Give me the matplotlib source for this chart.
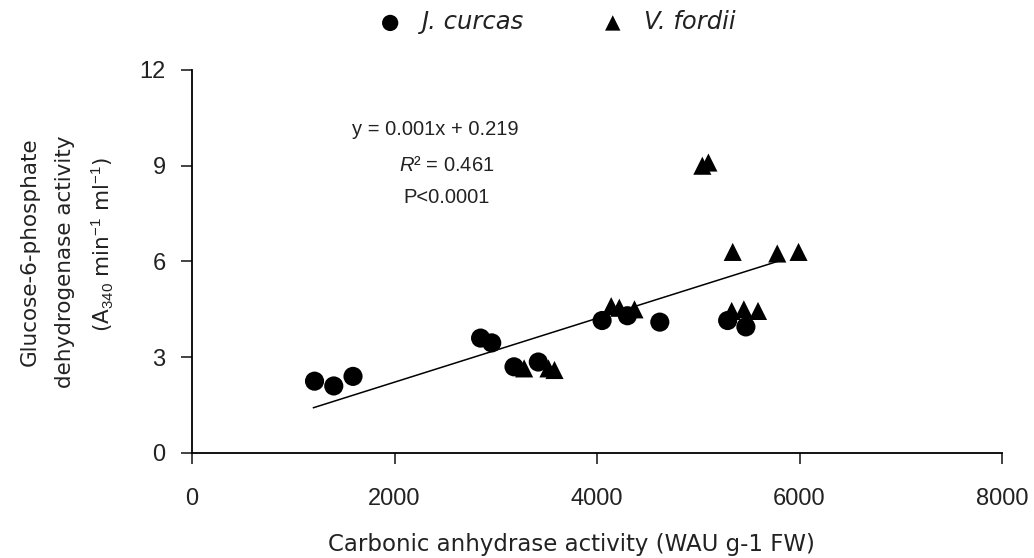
import matplotlib
matplotlib.use("Agg")
import matplotlib.pyplot as plt

plt.rcParams['font.family'] = ['Liberation Sans', 'DejaVu Sans']
plt.rcParams['mathtext.fontset'] = 'custom'
plt.rcParams['mathtext.rm'] = 'Liberation Sans'
plt.rcParams['mathtext.it'] = 'Liberation Sans:italic'

# J. curcas (circles)
jc_x = [1210, 1400, 1590, 2850, 2960, 3180, 3420, 4050, 4300, 4620, 5290, 5470]
jc_y = [2.25, 2.1, 2.4, 3.6, 3.45, 2.7, 2.85, 4.15, 4.3, 4.1, 4.15, 3.95]

# V. fordii (triangles)
vf_x = [3280, 3520, 3580, 4140, 4220, 4370, 5040, 5100, 5340, 5780, 5990, 5330, 5450, 5590]
vf_y = [2.65, 2.65, 2.6, 4.6, 4.55, 4.5, 9.0, 9.1, 6.3, 6.25, 6.3, 4.45, 4.5, 4.45]

# linear fit reported in the figure
slope = 0.001
intercept = 0.219
trend_x = [1200, 5800]

ylabel_lines = ['Glucose-6-phosphate', 'dehydrogenase activity',
                '(A$_{340}$ min$^{-1}$ ml$^{-1}$)']

txt = '#222222'
fig = plt.figure(figsize=(10.34, 5.58), dpi=100)
ax = fig.add_axes([0.1857, 0.1882, 0.7834, 0.6864])

ax.scatter(jc_x, jc_y, marker='o', s=190, c='black', edgecolors='none', label='J. curcas', zorder=3)
ax.scatter(vf_x, vf_y, marker='^', s=170, c='black', edgecolors='none', label='V. fordii', zorder=3)
ax.plot(trend_x, [slope * v + intercept for v in trend_x], c='black', lw=1.1, zorder=2)

ax.set_xlim(0, 8000)
ax.set_ylim(0, 12)
ax.set_xticks([0, 2000, 4000, 6000, 8000])
ax.set_yticks([0, 3, 6, 9, 12])
for s in ['top', 'right']:
    ax.spines[s].set_visible(False)
for s in ['left', 'bottom']:
    ax.spines[s].set_linewidth(1.3)
ax.tick_params(axis='x', direction='out', length=8, width=1.2, pad=17, labelsize=17, colors=txt)
ax.tick_params(axis='y', direction='out', length=8, width=1.2, pad=11, labelsize=17, colors=txt)

ax.set_xlabel('Carbonic anhydrase activity (WAU g-1 FW)', fontsize=16.5, color=txt,
              family='DejaVu Sans', va='top')
ax.xaxis.set_label_coords(0.468, -0.209)

# three-line y label, one text per line so the spacing is even
for line, xp, yp in zip(ylabel_lines, [-0.2, -0.157, -0.11], [0.525, 0.50, 0.545]):
    ax.text(xp, yp, line, transform=ax.transAxes, rotation=90, ha='center', va='center',
            fontsize=15.5, color=txt, family='DejaVu Sans')

ax.text(2400, 10.12, 'y = 0.001x + 0.219', ha='center', va='center', fontsize=14.5, color=txt)
ax.text(2520, 9.02, '$R$² = 0.461', ha='center', va='center', fontsize=14.5, color=txt)
ax.text(2510, 7.99, 'P<0.0001', ha='center', va='center', fontsize=14.5, color=txt)

leg = fig.legend(loc='center left', bbox_to_anchor=(0.3656, 0.96), ncol=2, frameon=False,
                 prop={'family': 'DejaVu Sans', 'style': 'italic', 'size': 17.5},
                 handlelength=1.0, handletextpad=0.8, columnspacing=3.15, markerscale=0.85,
                 borderpad=0, borderaxespad=0)
for t in leg.get_texts():
    t.set_color(txt)

fig.savefig('out.png', dpi=100)
